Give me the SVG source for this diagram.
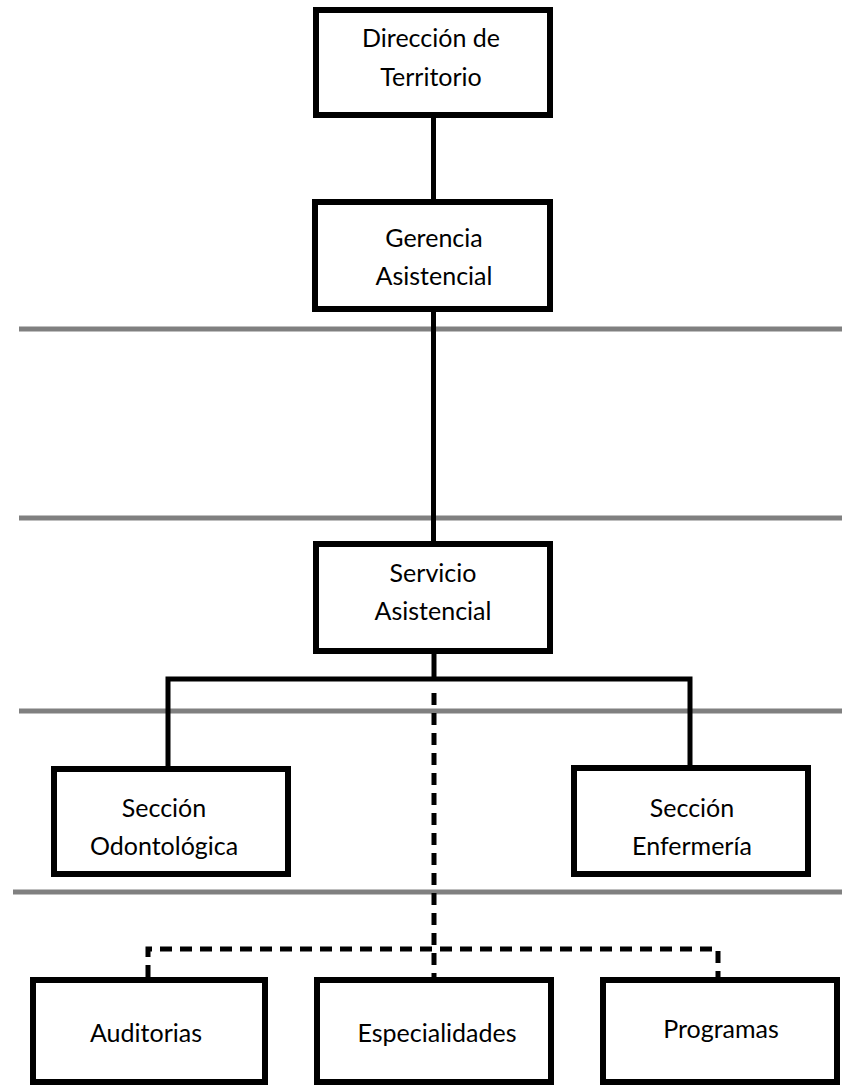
<svg xmlns="http://www.w3.org/2000/svg" width="842" height="1086" viewBox="0 0 842 1086">
<style>
.band{stroke:#808080;stroke-width:5;fill:none}
.conn{stroke:#000;stroke-width:5;fill:none;stroke-linejoin:miter}
.dash{stroke:#000;stroke-width:5;fill:none;stroke-dasharray:12 8}
.box{fill:#fff;stroke:#000;stroke-width:6}
.lbl{font-family:Lato,"Liberation Sans",sans-serif;font-size:25px;fill:#000;text-anchor:middle}
</style>
<rect width="842" height="1086" fill="#fff"/>
<g id="bands">
<line class="band" x1="19" y1="329" x2="842" y2="329"/>
<line class="band" x1="19" y1="518" x2="842" y2="518"/>
<line class="band" x1="19" y1="711" x2="842" y2="711"/>
<line class="band" x1="13" y1="892" x2="842" y2="892"/>
</g>
<g id="connectors">
<line class="conn" x1="433.5" y1="118" x2="433.5" y2="199"/>
<line class="conn" x1="433.5" y1="312" x2="433.5" y2="541"/>
<line class="conn" x1="434" y1="654" x2="434" y2="679"/>
<path class="conn" d="M168,766 V679 H690 V765"/>
<line class="dash" x1="434" y1="693" x2="434" y2="977"/>
<path class="dash" d="M148,977 V949 H718 V977"/>
</g>
<g id="n-direccion">
<rect class="box" x="316" y="10" width="234" height="105"/>
<text class="lbl" x="431" y="47">Dirección de</text>
<text class="lbl" x="431" y="86">Territorio</text>
</g>
<g id="n-gerencia">
<rect class="box" x="315" y="202" width="235" height="107"/>
<text class="lbl" x="434" y="247">Gerencia</text>
<text class="lbl" x="434" y="285">Asistencial</text>
</g>
<g id="n-servicio">
<rect class="box" x="316" y="544" width="234" height="107"/>
<text class="lbl" x="433" y="582">Servicio</text>
<text class="lbl" x="433" y="620">Asistencial</text>
</g>
<g id="n-odontologica">
<rect class="box" x="54" y="769" width="234" height="105"/>
<text class="lbl" x="164" y="817">Sección</text>
<text class="lbl" x="164" y="855">Odontológica</text>
</g>
<g id="n-enfermeria">
<rect class="box" x="574" y="768" width="234" height="106"/>
<text class="lbl" x="692" y="817">Sección</text>
<text class="lbl" x="692" y="855">Enfermería</text>
</g>
<g id="n-auditorias">
<rect class="box" x="33" y="980" width="232" height="102"/>
<text class="lbl" x="146" y="1042">Auditorias</text>
</g>
<g id="n-especialidades">
<rect class="box" x="317" y="980" width="234" height="102"/>
<text class="lbl" x="437" y="1042">Especialidades</text>
</g>
<g id="n-programas">
<rect class="box" x="603" y="980" width="234" height="102"/>
<text class="lbl" x="721" y="1038">Programas</text>
</g>
</svg>
